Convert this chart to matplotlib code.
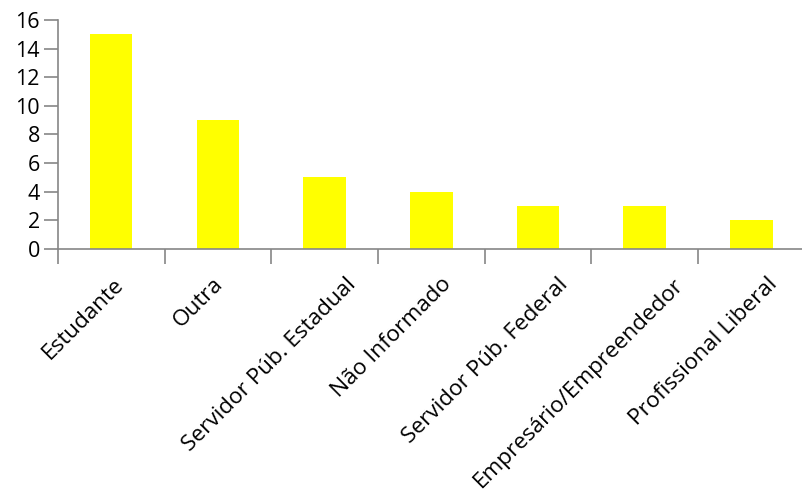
import matplotlib
matplotlib.use("Agg")
import matplotlib.pyplot as plt
import numpy as np

categories = [
    "Estudante",
    "Outra",
    "Servidor Púb. Estadual",
    "Não Informado",
    "Servidor Púb. Federal",
    "Empresário/Empreendedor",
    "Profissional Liberal",
]
counts = [15, 9, 5, 4, 3, 3, 2]
y_ticks = [0, 2, 4, 6, 8, 10, 12, 14, 16]

plt.rcParams["font.family"] = ["Open Sans", "DejaVu Sans"]

fig = plt.figure(figsize=(8.03, 4.99), dpi=100)
ax = fig.add_axes([0.072, 0.501, 0.93, 0.459])

x = np.arange(len(categories))
ax.bar(x, counts, width=0.4, color="#ffff00")

ax.set_xlim(-0.5, len(categories) - 0.5)
ax.set_ylim(0, 16)
ax.set_yticks(y_ticks)
ax.tick_params(axis="y", labelsize=15.5, length=10, color="#868686", width=1.2, pad=3)

# categorias entre marcas, rotulos desenhados a parte
ax.set_xticks(x)
ax.set_xticklabels([])
ax.tick_params(axis="x", length=0)
ax.set_xticks(np.arange(len(categories)) - 0.5, minor=True)
ax.tick_params(axis="x", which="minor", length=11, color="#868686", width=1.2)

for side in ("top", "right"):
    ax.spines[side].set_visible(False)
for side in ("left", "bottom"):
    ax.spines[side].set_color("#868686")
    ax.spines[side].set_linewidth(1.2)

# mede a largura de cada rotulo para imitar o alinhamento do Excel
renderer = fig.canvas.get_renderer()
for i, name in enumerate(categories):
    probe = fig.text(0, 0, name, fontsize=16.2)
    length = probe.get_window_extent(renderer).width
    probe.remove()
    shift = 0.148 * length - 14
    ax.annotate(
        name,
        xy=(i, 0),
        xycoords=ax.get_xaxis_transform(),
        xytext=(shift, -25),
        textcoords="offset pixels",
        rotation=45,
        rotation_mode="anchor",
        ha="right",
        va="top",
        fontsize=16.2,
        annotation_clip=False,
    )

fig.savefig("out.png", dpi=100)
